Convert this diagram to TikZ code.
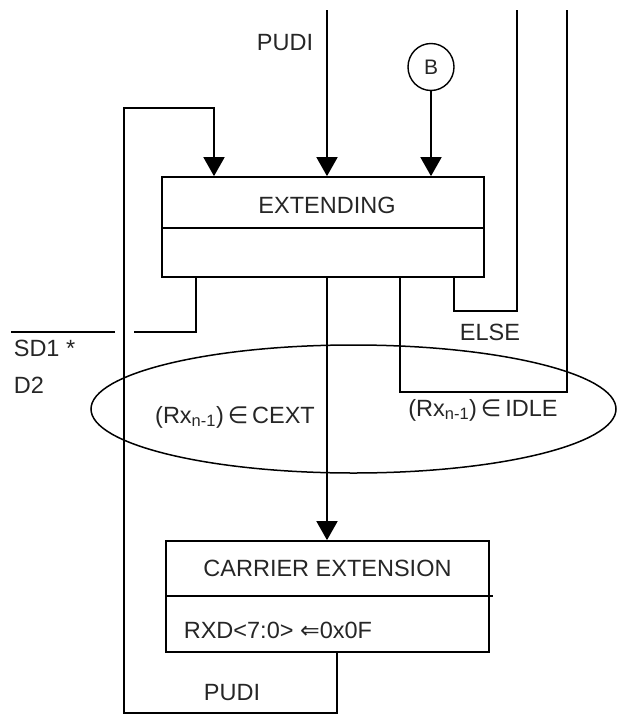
\documentclass[tikz,border=0pt]{standalone}
\usepackage{fontspec}
\setmainfont{Liberation Sans}
\newfontfamily\symfont{DejaVu Sans}
\usetikzlibrary{arrows.meta,shapes.geometric}
\begin{document}
\begin{tikzpicture}[x=1pt,y=-1pt,
  line width=1.7pt,
  arr/.style={-{Triangle[length=19pt,width=21pt]}},
  lbl/.style={font=\fontsize{23.5}{28}\selectfont, text=black!85, inner sep=0pt},
  statebox/.style={draw, rectangle, inner sep=0pt},
]
\useasboundingbox (0,0) rectangle (618,715);

% state boxes
\node[statebox, minimum width=322pt, minimum height=100pt] (ext) at (323,227) {};
\draw ([yshift=-52pt]ext.north west) -- ([yshift=-52pt]ext.north east);
\node[statebox, minimum width=323pt, minimum height=111pt] (ce) at (327.5,596.5) {};
\draw ([yshift=-56pt]ce.north west) -- ([yshift=-56pt,xshift=3pt]ce.north east);

% connector B
\node[draw, ellipse, minimum width=46pt, minimum height=47pt, inner sep=0pt, line width=1.4pt, font=\fontsize{21}{24}\selectfont, text=black!85] (B) at (431,67) {B};

% condition ellipse
\node[draw, ellipse, minimum width=525pt, minimum height=128pt, inner sep=0pt, line width=1.5pt] (cond) at (353.5,409) {};

% coordinates
\coordinate (pudiTop) at (327,10);
\coordinate (c1) at (337,713);
\coordinate (c2) at (124,713);
\coordinate (c3) at (124,108);
\coordinate (c4) at (214,108);
\coordinate (o1) at (196,332);
\coordinate (o1gap) at (134,332);
\coordinate (o1b) at (115,332);
\coordinate (o1end) at (11,332);
\coordinate (i1) at (400,392);
\coordinate (i2) at (567,392);
\coordinate (i3) at (567,10);
\coordinate (e1) at (454,311);
\coordinate (e2) at (517,311);
\coordinate (e3) at (517,10);

% connectors into EXTENDING
\draw[arr] (pudiTop) -- (pudiTop |- ext.north);
\draw[arr] (B.south) -- (B.south |- ext.north);
\draw[arr] (ce.south -| c1) -- (c1) -- (c2) -- (c3) -- (c4) -- (c4 |- ext.north);

% connectors out of EXTENDING
\draw (ext.south -| o1) -- (o1) -- (o1gap);
\draw (o1b) -- (o1end);
\draw[arr] (ext.south -| pudiTop) -- (ce.north -| pudiTop);
\draw (ext.south -| i1) -- (i1) -- (i2) -- (i3);
\draw (ext.south -| e1) -- (e1) -- (e2) -- (e3);

% labels
\node[lbl] (tPudi) at (285,43) {PUDI};
\node[lbl] (tExt) at (327,205) {EXTENDING};
\node[lbl] (tElse) at (490,332) {ELSE};
\node[lbl] (tCext) at (235,417) {(Rx\textsubscript{n-1})\,{\symfont ∈}\,CEXT};
\node[lbl] (tIdle) at (483,410) {(Rx\textsubscript{n-1})\,{\symfont ∈}\,IDLE};
\node[lbl] (tCar) at (327.5,568) {CARRIER EXTENSION};
\node[lbl, anchor=west] (tRxd) at (183,630) {RXD<7:0> {\symfont ⇐}0x0F};
\node[lbl] (tPudi2) at (232,693) {PUDI};
\node[lbl, anchor=west] (tSd1) at (13,348) {SD1 *};
\node[lbl, anchor=west] (tD2) at (13,385) {D2};
\end{tikzpicture}
\end{document}
